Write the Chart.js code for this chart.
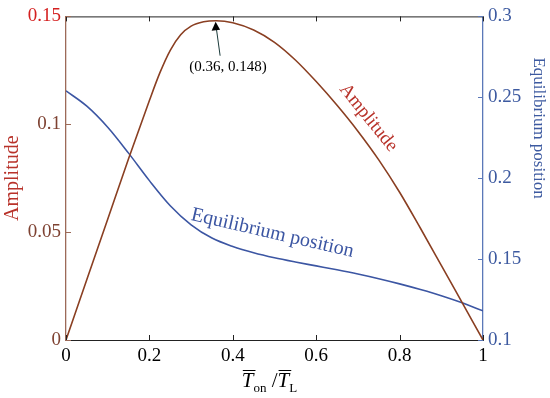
<!DOCTYPE html>
<html>
<head>
<meta charset="utf-8">
<script src="https://cdn.jsdelivr.net/npm/chart.js@4.4.0/dist/chart.umd.min.js"></script>
<style>
  html, body { margin: 0; padding: 0; background: #fff; }
  #wrap { width: 550px; height: 398px; }
</style>
</head>
<body>
<div id="wrap"><canvas id="chart"></canvas></div>
<script>
const ratioAmp = [0, 0.05, 0.1, 0.15, 0.2, 0.225, 0.25, 0.275, 0.3, 0.33, 0.36, 0.4, 0.45, 0.5, 0.55, 0.6, 0.65, 0.7, 0.75, 0.8, 0.85, 0.9, 0.95, 1.0]
const amplitude = [0, 0.028, 0.056, 0.084, 0.111, 0.1238, 0.1343, 0.1415, 0.1455, 0.1475, 0.148, 0.1471, 0.1437, 0.138, 0.1298, 0.1198, 0.1088, 0.0968, 0.0835, 0.0685, 0.0518, 0.0346, 0.0173, 0]
const ratioEq = [0, 0.05, 0.1, 0.15, 0.2, 0.25, 0.3, 0.35, 0.4, 0.45, 0.5, 0.55, 0.6, 0.65, 0.7, 0.75, 0.8, 0.85, 0.9, 0.95, 1.0]
const equilibrium = [0.254, 0.2445, 0.2315, 0.2155, 0.1985, 0.183, 0.1712, 0.163, 0.1578, 0.1539, 0.1508, 0.1482, 0.1458, 0.1434, 0.1408, 0.1379, 0.1347, 0.1312, 0.1274, 0.123, 0.118]
const peak = [0.36, 0.148]

const serif = '"Liberation Serif", "Times New Roman", serif'
const brown = '#8a3f22'
const blue = '#3c56a3'

const toPoints = (xs, ys) => xs.map((x, i) => ({x: x, y: ys[i]}))

// inward ticks, top border, annotations and titles
const frame = {
    id: 'frame',
    afterDatasetsDraw(chart) {
        const {ctx, chartArea: a, scales} = chart
        const x = scales.x, y = scales.y, y1 = scales.y1
        ctx.save()
        ctx.lineWidth = 1
        ctx.strokeStyle = '#222'
        ctx.beginPath()
        ctx.moveTo(a.left, a.top + 0.5)
        ctx.lineTo(a.right, a.top + 0.5)
        x.ticks.forEach(t => {
            const px = Math.round(x.getPixelForValue(t.value)) + 0.5
            ctx.moveTo(px, a.bottom); ctx.lineTo(px, a.bottom - 5)
            ctx.moveTo(px, a.top); ctx.lineTo(px, a.top + 5)
        })
        ctx.stroke()

        ctx.strokeStyle = '#9c6a58'
        ctx.beginPath()
        y.ticks.forEach(t => {
            const py = Math.round(y.getPixelForValue(t.value)) + 0.5
            ctx.moveTo(a.left, py); ctx.lineTo(a.left + 5, py)
        })
        ctx.stroke()

        ctx.strokeStyle = '#5b78b8'
        ctx.beginPath()
        y1.ticks.forEach(t => {
            const py = Math.round(y1.getPixelForValue(t.value)) + 0.5
            ctx.moveTo(a.right, py); ctx.lineTo(a.right - 5, py)
        })
        ctx.stroke()

        // peak annotation
        const tipX = x.getPixelForValue(peak[0])
        const tipY = y.getPixelForValue(peak[1])
        ctx.strokeStyle = '#1a3a3a'
        ctx.beginPath()
        ctx.moveTo(tipX + 4, tipY + 35)
        ctx.lineTo(tipX, tipY + 6)
        ctx.stroke()
        ctx.fillStyle = '#000'
        ctx.beginPath()
        ctx.moveTo(tipX - 0.5, tipY + 1)
        ctx.lineTo(tipX - 4.5, tipY + 10)
        ctx.lineTo(tipX + 4, tipY + 9)
        ctx.closePath()
        ctx.fill()
        ctx.font = '15px ' + serif
        ctx.textAlign = 'center'
        ctx.textBaseline = 'middle'
        ctx.fillText('(' + peak[0] + ', ' + peak[1] + ')', tipX + 12, tipY + 46)

        // curve labels
        ctx.font = '19px ' + serif
        ctx.fillStyle = '#b8322a'
        ctx.translate(x.getPixelForValue(0.725), y.getPixelForValue(0.103))
        ctx.rotate(51 * Math.PI / 180)
        ctx.fillText('Amplitude', 0, 0)
        ctx.setTransform(1, 0, 0, 1, 0, 0)
        ctx.font = '20px ' + serif
        ctx.fillStyle = blue
        ctx.translate(x.getPixelForValue(0.495), y1.getPixelForValue(0.166))
        ctx.rotate(13 * Math.PI / 180)
        ctx.fillText('Equilibrium position', 0, 0)
        ctx.setTransform(1, 0, 0, 1, 0, 0)

        // right axis title
        ctx.font = '17px ' + serif
        ctx.fillStyle = '#3d5aa0'
        ctx.translate(a.right + 55, y1.getPixelForValue(0.231))
        ctx.rotate(Math.PI / 2)
        ctx.fillText('Equilibrium position', 0, 0)
        ctx.setTransform(1, 0, 0, 1, 0, 0)

        // x title: T̄on / T̄L
        const cx = (a.left + a.right) / 2 - 5
        const base = a.bottom + 47
        ctx.fillStyle = '#000'
        ctx.strokeStyle = '#000'
        ctx.textAlign = 'left'
        ctx.textBaseline = 'alphabetic'
        const parts = [
            {t: 'T', f: 'italic 21px ' + serif, dy: 0, bar: true},
            {t: 'on', f: '13px ' + serif, dy: 5},
            {t: ' /', f: '21px ' + serif, dy: 0},
            {t: 'T', f: 'italic 21px ' + serif, dy: 0, bar: true},
            {t: 'L', f: '13px ' + serif, dy: 5}
        ]
        let w = 0
        parts.forEach(p => { ctx.font = p.f; p.w = ctx.measureText(p.t).width; w += p.w })
        let px = cx - w / 2
        parts.forEach(p => {
            ctx.font = p.f
            ctx.fillText(p.t, px, base + p.dy)
            if (p.bar) {
                ctx.beginPath()
                ctx.moveTo(px + 1, base - 16.5)
                ctx.lineTo(px + p.w + 2, base - 16.5)
                ctx.stroke()
            }
            px += p.w
        })
        ctx.restore()
    }
}

new Chart(document.getElementById('chart'), {
    type: 'line',
    data: {
        datasets: [
            {
                label: 'Amplitude',
                data: toPoints(ratioAmp, amplitude),
                yAxisID: 'y',
                borderColor: brown,
                borderWidth: 1.6,
                pointRadius: 0,
                cubicInterpolationMode: 'monotone',
            },
            {
                label: 'Equilibrium position',
                data: toPoints(ratioEq, equilibrium),
                yAxisID: 'y1',
                borderColor: blue,
                borderWidth: 1.6,
                pointRadius: 0,
                cubicInterpolationMode: 'monotone',
            },
        ],
    },
    options: {
        responsive: true,
        maintainAspectRatio: false,
        animation: false,
        layout: { padding: { top: 12, left: 0, right: 0, bottom: 0 } },
        plugins: { legend: { display: false }, tooltip: { enabled: false } },
        scales: {
            x: {
                type: 'linear',
                min: 0, max: 1,
                grid: { display: false, drawTicks: false },
                border: { display: true, color: '#222', width: 1 },
                ticks: {
                    stepSize: 0.2,
                    padding: 5,
                    color: '#000',
                    font: { family: serif, size: 19 },
                    callback: v => +v.toFixed(1),
                },
                afterFit: s => { s.height = 58 },
            },
            y: {
                position: 'left',
                min: 0, max: 0.15,
                grid: { display: false, drawTicks: false },
                border: { display: true, color: '#9c6a58', width: 1.3 },
                ticks: {
                    stepSize: 0.05,
                    padding: 5,
                    color: c => c.tick && c.tick.value === 0.15 ? '#d42020' : '#7e4232',
                    font: { family: serif, size: 19 },
                    callback: v => +v.toFixed(2),
                },
                title: {
                    display: true,
                    text: 'Amplitude',
                    color: '#b8322a',
                    font: { family: serif, size: 20 },
                    padding: { top: 1, bottom: 0 },
                },
                afterFit: s => { s.width = 66 },
            },
            y1: {
                position: 'right',
                min: 0.1, max: 0.3,
                grid: { display: false, drawTicks: false },
                border: { display: true, color: '#5b78b8', width: 1.3 },
                ticks: {
                    stepSize: 0.05,
                    padding: 5,
                    color: '#3d5aa0',
                    font: { family: serif, size: 19 },
                    callback: v => +v.toFixed(2),
                },
                afterFit: s => { s.width = 67 },
            },
        },
    },
    plugins: [frame],
})
</script>
</body>
</html>
